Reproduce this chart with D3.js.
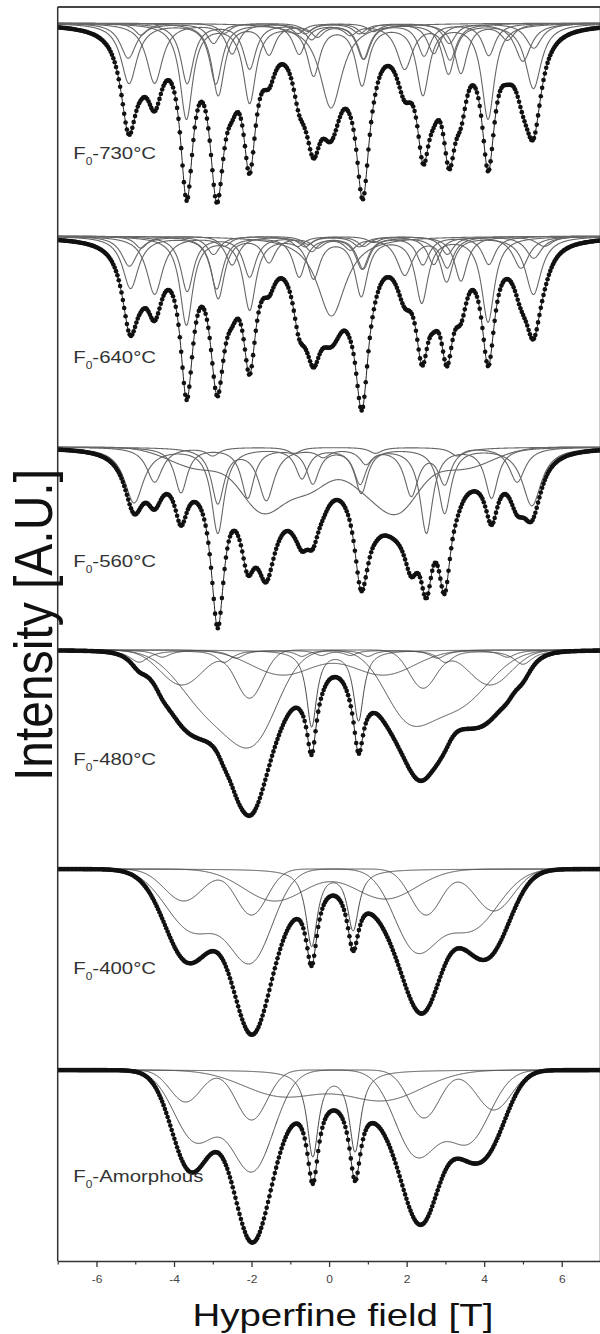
<!DOCTYPE html>
<html><head><meta charset="utf-8">
<script src="https://cdn.jsdelivr.net/npm/d3@7"></script>
<style>body{margin:0;background:#fff}svg{display:block}text{font-family:"Liberation Sans",Arial,sans-serif}</style>
</head><body>
<svg id="chart" width="600" height="1334"></svg>
<script>
// ---------------- data ----------------
const panelLabels = ["730°C", "640°C", "560°C", "480°C", "400°C", "Amorphous"];
const panelOffsets = [12.38, 10.25, 8.14, 6.11, 3.92, 1.91];      // baseline of each stacked spectrum [A.U.]
const labelDepth = [1.36, 1.27, 1.20, 1.15, 1.05, 1.12];          // label baseline, below each spectrum baseline [A.U.]
const xTicks = [-6, -4, -2, 0, 2, 4, 6];
const xMinorTicks = [-7, -5, -3, -1, 1, 3, 5, 7];
const channelStep = 0.035;                                        // velocity channel spacing

// sub-spectra: shape L = Lorentzian (width = HWHM), G = Gaussian (width = sigma); lines [position, depth A.U., width]
const sub730 = [
  {shape: "L", lines: [[-3.68, .95, .2], [-2.05, .78, .2], [-0.40, .50, .2], [0.85, .60, .2], [2.42, .70, .2], [4.10, .95, .2]]},
  {shape: "L", lines: [[-5.16, .60, .25], [-2.92, .60, .2], [-0.77, .30, .2], [0.88, .35, .2], [3.08, .50, .2], [5.27, .65, .25]]},
  {shape: "L", lines: [[-4.50, .60, .25], [-2.50, .30, .2], [-0.62, .10, .2], [0.78, .10, .2], [2.70, .30, .2], [5.00, .38, .25]]},
  {shape: "L", lines: [[0.05, .85, .35]]},
  {shape: "L", lines: [[-2.86, .72, .2], [-1.55, .30, .2], [-0.30, .12, .2], [0.55, .10, .2], [1.95, .45, .25], [3.12, .35, .2]]},
  {shape: "L", lines: [[-3.66, .60, .2], [-2.05, .45, .2], [-0.45, .15, .2], [0.90, .35, .2], [2.45, .32, .2], [4.12, .32, .2]]},
  {shape: "L", lines: [[-5.18, .35, .25], [-2.98, .20, .2], [-0.80, .10, .2], [0.90, .10, .2], [3.10, .20, .2], [5.28, .25, .25]]},
  {shape: "L", lines: [[-4.85, .12, .2], [-2.70, .10, .2], [-0.55, .08, .2], [1.15, .08, .2], [3.40, .50, .2], [4.60, .16, .22]]}
];
const sub640 = [
  {shape: "L", lines: [[-3.68, .88, .2], [-2.05, .72, .2], [-0.40, .40, .2], [0.83, .58, .2], [2.39, .65, .2], [4.10, .85, .2]]},
  {shape: "L", lines: [[-5.12, .52, .25], [-2.90, .52, .2], [-0.77, .40, .2], [0.85, .32, .2], [3.03, .45, .2], [5.27, .58, .25]]},
  {shape: "L", lines: [[-4.50, .58, .25], [-2.50, .28, .2], [-0.62, .10, .2], [0.78, .10, .2], [2.70, .28, .2], [4.95, .32, .25]]},
  {shape: "L", lines: [[0.06, .80, .45]]},
  {shape: "L", lines: [[-2.86, .62, .2], [-1.55, .25, .2], [-0.30, .10, .2], [0.55, .12, .2], [1.95, .38, .25], [3.05, .30, .2]]},
  {shape: "L", lines: [[-3.66, .55, .2], [-2.05, .40, .2], [-0.45, .14, .2], [0.88, .32, .2], [2.42, .28, .2], [4.12, .28, .2]]},
  {shape: "L", lines: [[-5.15, .30, .25], [-2.98, .18, .2], [-0.80, .10, .2], [0.90, .10, .2], [3.05, .18, .2], [5.28, .22, .25]]},
  {shape: "L", lines: [[-4.85, .12, .2], [-2.70, .10, .2], [-0.55, .08, .2], [1.15, .06, .2], [3.40, .45, .2], [5.55, .10, .25]]}
];
const sub560 = [
  {shape: "G", lines: [[-3.3, .22, .8], [-1.7, .60, .55], [-0.5, .40, .55], [0.8, .28, .5], [1.75, .60, .55], [3.4, .22, .8]]},
  {shape: "L", lines: [[-5.03, .55, .3], [-2.87, .85, .2], [-0.70, .30, .2], [0.83, .45, .2], [2.98, .65, .2], [5.23, .58, .3]]},
  {shape: "L", lines: [[-3.82, .45, .2], [-2.10, .50, .2], [-0.42, .35, .2], [0.80, .35, .2], [2.51, .85, .2], [4.19, .50, .2]]},
  {shape: "L", lines: [[-2.87, .55, .2], [-1.62, .52, .25], [-0.15, .08, .2], [0.95, .15, .2], [2.12, .47, .22], [2.98, .35, .2]]},
  {shape: "L", lines: [[-4.50, .35, .25], [-3.00, .08, .2], [-0.90, .06, .2], [1.20, .06, .2], [3.30, .08, .2], [4.85, .35, .25]]}
];
const sub480 = [
  {shape: "G", lines: [[-3.0, .62, .8], [-1.87, .70, .6], [2.0, .58, .6], [3.3, .55, .8]]},
  {shape: "G", lines: [[-3.8, .35, .55], [-2.05, .48, .35], [2.42, .38, .35], [4.15, .35, .55]]},
  {shape: "G", lines: [[-1.2, .25, .8], [1.4, .25, .8]]},
  {shape: "L", lines: [[-0.45, .76, .16], [0.76, .70, .16]]},
  {shape: "L", lines: [[-4.9, .12, .3], [-2.7, .12, .25], [-0.7, .06, .2], [1.0, .06, .2], [3.0, .12, .25], [5.0, .14, .3]]},
  {shape: "L", lines: [[-4.3, .07, .25], [-2.4, .08, .25], [-0.2, .05, .2], [0.55, .05, .2], [2.8, .08, .25], [4.6, .07, .25]]}
];
const sub400 = [
  {shape: "G", lines: [[-3.5, .62, .7], [-2.0, .88, .55], [2.22, .76, .55], [3.65, .60, .7]]},
  {shape: "G", lines: [[-3.75, .32, .5], [-2.0, .46, .40], [2.5, .46, .40], [4.25, .42, .5]]},
  {shape: "G", lines: [[-1.4, .32, .8], [1.45, .30, .8]]},
  {shape: "L", lines: [[-0.45, .76, .18], [0.62, .60, .18]]}
];
const subAmorphous = [
  {shape: "G", lines: [[-3.45, .70, .55], [-1.98, 1.0, .55], [2.25, .84, .55], [3.6, .70, .55]]},
  {shape: "G", lines: [[-3.7, .32, .40], [-2.0, .50, .40], [2.45, .48, .40], [4.25, .40, .45]]},
  {shape: "G", lines: [[-1.2, .26, 1.0], [1.4, .30, 1.0]]},
  {shape: "L", lines: [[-0.42, .85, .18], [0.67, .80, .18]]}
];
const subspectra = [sub730, sub640, sub560, sub480, sub400, subAmorphous];

// ---------------- drawing ----------------
const svg = d3.select("#chart");
const frame = {left: 57.7, right: 600.5, top: 7, bottom: 1261};
const x = d3.scaleLinear().domain([-7, 7]).range([frame.left, frame.right]);
const y = d3.scaleLinear().domain([0, 12.54]).range([frame.bottom, frame.top]);

function lineDepth(v, l, shape) {
  const t = (v - l[0]) / l[2];
  return shape === "G" ? l[1] * Math.exp(-0.5 * t * t) : l[1] / (1 + t * t);
}
const compDepth = (v, c) => d3.sum(c.lines, l => lineDepth(v, l, c.shape));
const totalDepth = (v, comps) => d3.sum(comps, c => compDepth(v, c));

const channels = d3.range(-7, 7 + 1e-9, channelStep);
const fine = d3.range(-7, 7 + 1e-9, 0.01);

svg.append("defs").append("clipPath").attr("id", "plotclip")
  .append("rect").attr("x", frame.left).attr("y", frame.top)
  .attr("width", frame.right - frame.left).attr("height", frame.bottom - frame.top);

const plot = svg.append("g").attr("clip-path", "url(#plotclip)");

subspectra.forEach((comps, i) => {
  const off = panelOffsets[i];
  const g = plot.append("g");
  const crystalline = i < 3;
  comps.forEach(c => {
    g.append("path")
      .datum(fine)
      .attr("fill", "none")
      .attr("stroke", crystalline ? "#666" : "#474747")
      .attr("stroke-width", crystalline ? 1.1 : 1.0)
      .attr("d", d3.line().x(v => x(v)).y(v => y(off - compDepth(v, c))));
  });
  g.append("path")
    .datum(fine)
    .attr("fill", "none")
    .attr("stroke", "#222")
    .attr("stroke-width", 1)
    .attr("d", d3.line().x(v => x(v)).y(v => y(off - totalDepth(v, comps))));
  g.selectAll("circle").data(channels).join("circle")
    .attr("cx", v => x(v))
    .attr("cy", v => y(off - totalDepth(v, comps)))
    .attr("r", 2.3)
    .attr("fill", "#111");
});

// frame
svg.append("line").attr("x1", frame.left).attr("x2", frame.left).attr("y1", frame.top).attr("y2", frame.bottom)
  .attr("stroke", "#333").attr("stroke-width", 1.5);
svg.append("line").attr("x1", frame.left).attr("x2", frame.right).attr("y1", frame.top).attr("y2", frame.top)
  .attr("stroke", "#444").attr("stroke-width", 1.8);
svg.append("line").attr("x1", frame.right).attr("x2", frame.right).attr("y1", frame.top).attr("y2", frame.bottom)
  .attr("stroke", "#333").attr("stroke-width", 1.5);

// bottom axis
const axisG = svg.append("g").attr("transform", `translate(0,${frame.bottom})`)
  .call(d3.axisBottom(x).tickValues(xTicks).tickSize(6).tickSizeOuter(0).tickPadding(9).tickFormat(d => String(d)));
axisG.select(".domain").attr("stroke", "#333").attr("stroke-width", 1.5);
axisG.selectAll(".tick line").attr("stroke", "#333").attr("stroke-width", 1.3);
axisG.selectAll(".tick text").attr("font-size", 10).attr("fill", "#444")
  .attr("font-family", "'Liberation Sans', Arial, sans-serif").attr("transform", "scale(1.2,1)");
const minorG = svg.append("g").attr("transform", `translate(0,${frame.bottom})`)
  .call(d3.axisBottom(x).tickValues(xMinorTicks).tickSize(3.5).tickSizeOuter(0).tickFormat(""));
minorG.select(".domain").remove();
minorG.selectAll(".tick line").attr("stroke", "#333").attr("stroke-width", 1.2);

// panel labels
panelLabels.forEach((lab, i) => {
  const t = svg.append("text")
    .attr("transform", `translate(${x(-6.6)},${y(panelOffsets[i] - labelDepth[i])}) scale(1.2,1)`)
    .attr("font-size", 17).attr("fill", "#333");
  t.append("tspan").text("F");
  t.append("tspan").attr("font-size", 10).attr("dy", 6).text("0");
  t.append("tspan").attr("dy", -6).text("-" + lab);
});

// axis titles
svg.append("text").attr("transform", `translate(343,1326) scale(1.2,1)`)
  .attr("text-anchor", "middle").attr("font-size", 32).attr("fill", "#111").text("Hyperfine field [T]");
svg.append("text").attr("transform", `translate(52,625) scale(1.1,1) rotate(-90)`)
  .attr("text-anchor", "middle").attr("font-size", 48).attr("fill", "#111").text("Intensity [A.U.]");
</script>
</body></html>
